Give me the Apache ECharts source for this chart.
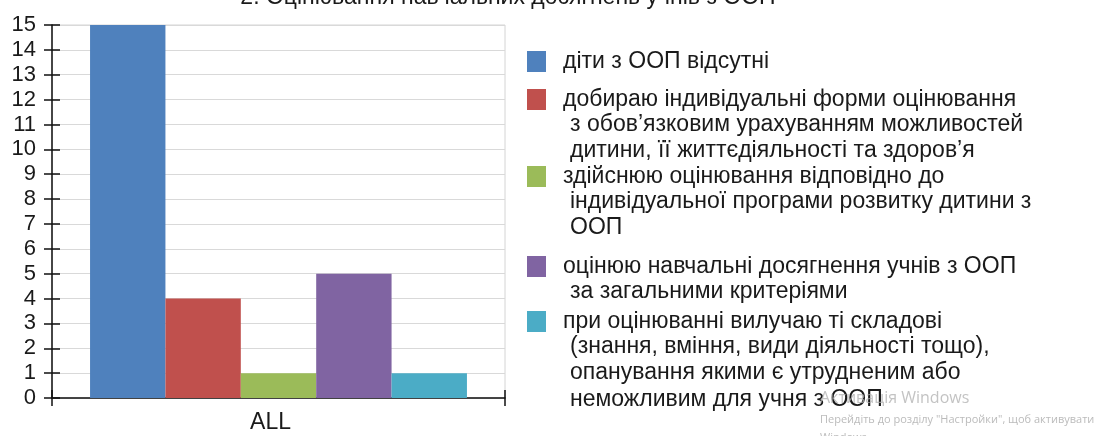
<!DOCTYPE html>
<html>
<head>
<meta charset="utf-8">
<script src="https://cdn.jsdelivr.net/npm/echarts@6/dist/echarts.min.js"></script>
<style>
html,body{margin:0;padding:0;background:#fff;}
#chart{width:1106px;height:436px;}
</style>
</head>
<body>
<div id="chart"></div>
<script>
var titleText = '2. Оцінювання навчальних досягнень учнів з ООП';
var categories = ['ALL'];
var yTicks = [0, 15, 1];
var seriesNames = [
  'діти з ООП відсутні',
  'добираю індивідуальні форми оцінювання',
  'здійснюю оцінювання відповідно до',
  'оцінюю навчальні досягнення учнів з ООП',
  'при оцінюванні вилучаю ті складові'
];
var seriesMoreLines = [
  [],
  ['з обов\u2019язковим урахуванням можливостей', 'дитини, її життєдіяльності та здоров\u2019я'],
  ['індивідуальної програми розвитку дитини з', 'ООП'],
  ['за загальними критеріями'],
  ['(знання, вміння, види діяльності тощо),', 'опанування якими є утрудненим або', 'неможливим для учня з ООП']
];
var seriesValues = [[15], [4], [1], [5], [1]];
var seriesColors = ['#4f81bd', '#c0504d', '#9bbb59', '#8064a2', '#4bacc6'];
var watermark = ['Активація Windows', 'Перейдіть до розділу "Настройки", щоб активувати', 'Windows'];

var FONT = '"Liberation Sans", Arial, sans-serif';
var legendTops = [50, 88, 165, 255, 310];
var LH = 26.5;

var chart = echarts.init(document.getElementById('chart'));

var series = seriesNames.map(function (n, i) {
  return {
    name: n, type: 'bar', data: seriesValues[i],
    itemStyle: { color: seriesColors[i] },
    barGap: 0, barCategoryGap: '16.8%'
  };
});

var legends = seriesNames.map(function (n, i) {
  return {
    data: [n], left: 527, top: legendTops[i], orient: 'vertical', padding: 0,
    itemWidth: 19, itemHeight: 21, selectedMode: false, icon: 'rect',
    textStyle: { fontSize: 23, fontFamily: FONT, color: '#1a1a1a', lineHeight: 21, padding: [0, 0, 0, 12] }
  };
});

var graphics = [];
seriesMoreLines.forEach(function (lines, i) {
  lines.forEach(function (t, j) {
    graphics.push({
      type: 'text', x: 570, y: legendTops[i] + 10 + (j + 1) * LH,
      style: { text: t, fontSize: 23, fontFamily: FONT, fill: '#1a1a1a', verticalAlign: 'middle', align: 'left' }
    });
  });
});
graphics.push({ type: 'text', x: 820, y: 398, z: 100, style: { text: watermark[0], fontSize: 16, fontFamily: '"Open Sans", sans-serif', fill: 'rgba(175,175,175,0.75)', verticalAlign: 'middle' } });
graphics.push({ type: 'text', x: 820, y: 420, z: 100, style: { text: watermark[1], fontSize: 11, fontFamily: '"Open Sans", sans-serif', fill: 'rgba(175,175,175,0.85)', verticalAlign: 'middle' } });
graphics.push({ type: 'text', x: 820, y: 438, z: 100, style: { text: watermark[2], fontSize: 11, fontFamily: '"Open Sans", sans-serif', fill: 'rgba(175,175,175,0.85)', verticalAlign: 'middle' } });

var axisLineStyle = { color: '#111', width: 1.5 };

chart.setOption({
  animation: false,
  title: {
    text: titleText, left: 508, top: -14, textAlign: 'center', padding: 0,
    textStyle: { fontSize: 23, fontWeight: 'normal', fontFamily: FONT, color: '#1a1a1a' }
  },
  legend: legends,
  grid: { left: 52, right: 601, top: 25, bottom: 38, show: true, borderColor: '#d4d4d4', borderWidth: 1 },
  xAxis: [
    {
      type: 'category', data: categories,
      axisLine: { lineStyle: axisLineStyle },
      axisTick: { show: true, length: 8, lineStyle: axisLineStyle },
      axisLabel: { fontSize: 23, fontFamily: FONT, color: '#1a1a1a', margin: 13, padding: [0, 16, 0, 0] }
    },
    {
      type: 'category', data: categories, position: 'bottom', offset: 0,
      axisLine: { show: false },
      axisTick: { show: true, inside: true, length: 8, lineStyle: axisLineStyle },
      axisLabel: { show: false }
    }
  ],
  yAxis: [
    {
      type: 'value', min: yTicks[0], max: yTicks[1], interval: yTicks[2],
      axisLine: { show: true, lineStyle: axisLineStyle },
      axisTick: { show: true, length: 8, lineStyle: axisLineStyle },
      axisLabel: { fontSize: 22, fontFamily: FONT, color: '#1a1a1a', margin: 16 },
      splitLine: { lineStyle: { color: '#d9d9d9', width: 1 } }
    },
    {
      type: 'value', min: yTicks[0], max: yTicks[1], interval: yTicks[2], position: 'left', offset: 0,
      axisLine: { show: false },
      axisTick: { show: true, inside: true, length: 8, lineStyle: axisLineStyle },
      axisLabel: { show: false },
      splitLine: { show: false }
    }
  ],
  series: series,
  graphic: graphics
});
</script>
</body>
</html>
